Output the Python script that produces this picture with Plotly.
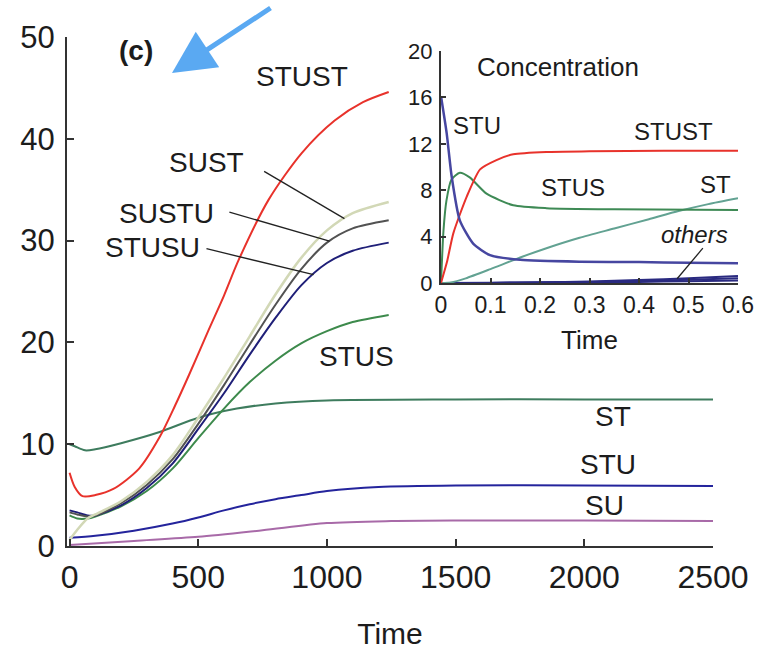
import numpy as np
import plotly.graph_objects as go

# ---------------- main panel data ----------------
t_stust = [0, 20, 50, 100, 170, 270, 350, 410, 464, 540, 600, 657, 773, 902, 1030, 1140, 1240]
v_stust = [7.2, 5.8, 4.9, 5.0, 5.6, 7.6, 10.7, 13.8, 16.8, 21.2, 24.6, 28.1, 34.0, 38.6, 41.8, 43.6, 44.6]

t_cl = [0, 30, 70, 100, 200, 300, 400, 500, 600, 700, 800, 900, 1000, 1100, 1240]
v_sust = [0.6, 1.6, 2.7, 3.1, 4.4, 6.3, 8.9, 12.6, 16.5, 20.6, 24.7, 28.3, 31.0, 32.7, 33.8]
v_sustu = [3.3, 3.1, 2.9, 3.0, 4.2, 6.0, 8.5, 12.0, 15.8, 19.8, 23.7, 27.2, 29.8, 31.2, 32.0]
v_stusu = [3.5, 3.3, 3.0, 3.0, 4.0, 5.7, 8.1, 11.5, 15.0, 18.8, 22.4, 25.6, 27.8, 29.0, 29.8]
v_stus = [3.0, 2.7, 2.7, 2.9, 3.9, 5.4, 7.6, 10.6, 13.5, 16.1, 18.2, 19.9, 21.1, 22.0, 22.7]

t_st = [0, 20, 60, 100, 200, 350, 500, 650, 800, 1000, 1500, 2000, 2500]
v_st = [10.0, 9.8, 9.4, 9.5, 10.1, 11.2, 12.6, 13.5, 14.0, 14.3, 14.4, 14.4, 14.4]

t_stu = [0, 100, 250, 400, 500, 600, 700, 800, 900, 1000, 1200, 1500, 2000, 2500]
v_stu = [0.8, 1.0, 1.5, 2.2, 2.8, 3.5, 4.1, 4.6, 5.0, 5.4, 5.8, 5.95, 5.95, 5.9]

t_su = [0, 250, 500, 750, 1000, 1250, 1500, 2000, 2500]
v_su = [0.1, 0.5, 0.9, 1.55, 2.25, 2.45, 2.5, 2.5, 2.45]

x_ticks = [0, 500, 1000, 1500, 2000, 2500]
y_ticks = [0, 10, 20, 30, 40, 50]

# ---------------- inset data ----------------
ti_stu = [0, 0.0115, 0.0215, 0.038, 0.065, 0.099, 0.16, 0.28, 0.4, 0.5, 0.6]
vi_stu = [16.1, 12.9, 9.2, 5.4, 3.4, 2.4, 2.0, 1.84, 1.8, 1.75, 1.7]

ti_stust = [0, 0.012, 0.025, 0.052, 0.079, 0.112, 0.146, 0.213, 0.3, 0.45, 0.6]
vi_stust = [0, 1.8, 4.3, 7.45, 9.8, 10.6, 11.1, 11.3, 11.35, 11.4, 11.4]

ti_stus = [0, 0.005, 0.011, 0.021, 0.038, 0.058, 0.092, 0.146, 0.213, 0.35, 0.6]
vi_stus = [0, 4.5, 7.1, 8.9, 9.5, 9.1, 7.7, 6.7, 6.45, 6.35, 6.3]

ti_st = [0, 0.02, 0.05, 0.1, 0.16, 0.213, 0.28, 0.35, 0.42, 0.48, 0.54, 0.6]
vi_st = [0, 0.05, 0.4, 1.2, 2.2, 3.0, 3.9, 4.7, 5.5, 6.2, 6.8, 7.3]

ti_oth = [0, 0.1, 0.2, 0.3, 0.4, 0.5, 0.6]
vi_oth1 = [0, 0.02, 0.06, 0.13, 0.25, 0.4, 0.6]
vi_oth2 = [0, 0.01, 0.04, 0.09, 0.17, 0.28, 0.42]
vi_oth3 = [0, 0.01, 0.02, 0.05, 0.09, 0.15, 0.22]

xi_ticks = [0, 0.1, 0.2, 0.3, 0.4, 0.5, 0.6]
xi_ticktext = ["0", "0.1", "0.2", "0.3", "0.4", "0.5", "0.6"]
yi_ticks = [0, 4, 8, 12, 16, 20]

FONT = "Liberation Sans, Arial, Helvetica, sans-serif"
TXT = "#1c1c1c"
AX = "#333333"

C_RED = "#e8322b"
C_SUST = "#d2d8b6"
C_SUSTU = "#525252"
C_STUSU = "#1f1f78"
C_STUS = "#3d8a4c"
C_ST = "#3e7c5e"
C_STU = "#24249c"
C_SU = "#a86aa8"

fig = go.Figure()

def main_line(x, y, color, w=2):
    fig.add_trace(go.Scatter(x=x, y=y, mode="lines", line=dict(color=color, width=w, shape="spline", smoothing=0.8),
                             xaxis="x", yaxis="y", hoverinfo="skip", showlegend=False))

main_line(t_su, v_su, C_SU)
main_line(t_stu, v_stu, C_STU)
main_line(t_st, v_st, C_ST)
main_line(t_cl, v_stus, C_STUS)
main_line(t_cl, v_stusu, C_STUSU)
main_line(t_cl, v_sustu, C_SUSTU)
main_line(t_cl, v_sust, C_SUST, 2.5)
main_line(t_stust, v_stust, C_RED)

def inset_line(x, y, color, w=2):
    fig.add_trace(go.Scatter(x=x, y=y, mode="lines", line=dict(color=color, width=w, shape="spline", smoothing=0.6),
                             xaxis="x2", yaxis="y2", hoverinfo="skip", showlegend=False))

inset_line(ti_oth, vi_oth1, "#2a2a80")
inset_line(ti_oth, vi_oth2, "#2a2a80")
inset_line(ti_oth, vi_oth3, "#2a2a80")
inset_line(ti_st, vi_st, "#62a292")
inset_line(ti_stus, vi_stus, "#3e8a55")
inset_line(ti_stust, vi_stust, C_RED)
inset_line(ti_stu, vi_stu, "#4646a0", 2.5)

annotations = []
def lab(x, y, text, size=28, ref="", italic=False, bold=False):
    if italic:
        text = "<i>%s</i>" % text
    if bold:
        text = "<b>%s</b>" % text
    annotations.append(dict(x=x, y=y, xref="x" + ref, yref="y" + ref, text=text,
                            showarrow=False, font=dict(family=FONT, size=size, color=TXT)))

# main labels
lab(903, 46.1, "STUST")
lab(532, 37.7, "SUST")
lab(377, 32.7, "SUSTU")
lab(323, 29.3, "STUSU")
lab(1116, 18.6, "STUS")
lab(2111, 12.7, "ST")
lab(2091, 8.0, "STU")
lab(2080, 4.0, "SU")
lab(257, 48.7, "(c)", size=28, bold=True)

# inset labels
lab(0.236, 18.6, "Concentration", size=26, ref="2")
lab(0.073, 13.6, "STU", size=24, ref="2")
lab(0.469, 13.1, "STUST", size=24, ref="2")
lab(0.267, 8.2, "STUS", size=24, ref="2")
lab(0.554, 8.5, "ST", size=24, ref="2")
lab(0.513, 4.2, "others", size=24, ref="2", italic=True)

# arrow
annotations.append(dict(x=172 / 773, y=(654 - 73) / 654, xref="paper", yref="paper", ax=100, ay=-66,
                        text="", showarrow=True, arrowhead=2, arrowsize=1.7, arrowwidth=5, arrowcolor="#5aa9f2"))

shapes = []
def leader(x0, y0, t_at, ts, vs, ref=""):
    shapes.append(dict(type="line", xref="x" + ref, yref="y" + ref, x0=x0, y0=y0, x1=t_at,
                       y1=float(np.interp(t_at, ts, vs)), line=dict(color="#222222", width=1.3)))

leader(756, 36.8, 1068, t_cl, v_sust)
leader(621, 32.8, 1010, t_cl, v_sustu)
leader(532, 29.2, 948, t_cl, v_stusu)
leader(0.529, 3.0, 0.477, ti_oth, vi_oth1, ref="2")

fig.update_layout(
    width=773, height=654, margin=dict(l=0, r=0, t=0, b=0, autoexpand=False),
    paper_bgcolor="white", plot_bgcolor="rgba(0,0,0,0)",
    annotations=annotations, shapes=shapes,
    xaxis=dict(domain=[67 / 773, 713 / 773], range=[-10, 2500], tickvals=x_ticks, ticks="inside", ticklen=7,
               tickwidth=2, tickcolor=AX, showline=True, linecolor=AX, linewidth=2, showgrid=False, zeroline=False,
               tickfont=dict(family=FONT, size=32, color=TXT), ticklabelstandoff=2, automargin=False,
               title=dict(text="Time", font=dict(family=FONT, size=30, color=TXT), standoff=29)),
    yaxis=dict(domain=[(654 - 546) / 654, (654 - 37) / 654], range=[0, 50], tickvals=y_ticks, ticks="inside",
               ticklen=7, tickwidth=2, tickcolor=AX, showline=True, linecolor=AX, linewidth=2, showgrid=False,
               zeroline=False, tickfont=dict(family=FONT, size=31, color=TXT), ticklabelstandoff=4, automargin=False),
    xaxis2=dict(domain=[441 / 773, 738 / 773], range=[0, 0.6], tickvals=xi_ticks, ticktext=xi_ticktext,
                anchor="y2", ticks="inside", ticklen=5, tickwidth=1.5, tickcolor=AX, showline=True, linecolor=AX,
                linewidth=2, showgrid=False, zeroline=False, tickfont=dict(family=FONT, size=23, color=TXT),
                ticklabelstandoff=0, automargin=False,
                title=dict(text="Time", font=dict(family=FONT, size=26, color=TXT), standoff=14)),
    yaxis2=dict(domain=[(654 - 283) / 654, (654 - 51) / 654], range=[0, 20], tickvals=yi_ticks, anchor="x2",
                ticks="inside", ticklen=5, tickwidth=1.5, tickcolor=AX, showline=True, linecolor=AX, linewidth=2,
                showgrid=False, zeroline=False, tickfont=dict(family=FONT, size=22, color=TXT), ticklabelstandoff=2,
                automargin=False),
)

fig.write_html("out.html")
